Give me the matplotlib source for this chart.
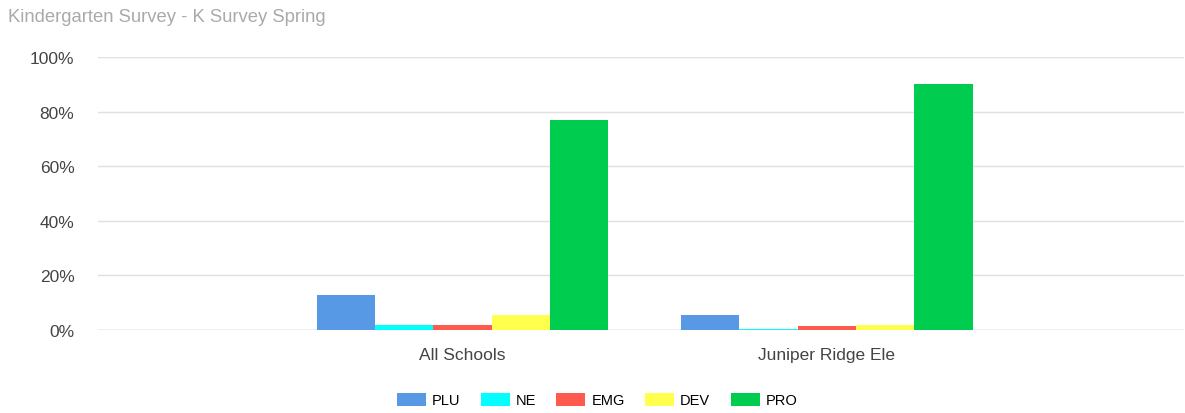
import matplotlib.pyplot as plt
import numpy as np
from matplotlib.ticker import FuncFormatter

plt.rcParams['font.family'] = ['Liberation Sans', 'DejaVu Sans']

schools = ['All Schools', 'Juniper Ridge Ele']
levels = ['PLU', 'NE', 'EMG', 'DEV', 'PRO']
colors = ['#5899e6', '#00ffff', '#ff5a4e', '#ffff4d', '#00cc4f']
plu = [13, 5.5]
ne = [2, 0.5]
emg = [2, 1.5]
dev = [5.5, 2]
pro = [77, 90]
series = [plu, ne, emg, dev, pro]

fig = plt.figure(figsize=(11.85, 4.14), dpi=100)
ax = fig.add_axes([98 / 1185, 1 - 331 / 414, (1184 - 98) / 1185, (331 - 58) / 414])

x = np.arange(len(schools))
w = 0.16
for i, vals in enumerate(series):
    ax.bar(x + (i - 2) * w, vals, width=w, color=colors[i], label=levels[i], zorder=3)

ax.set_ylim(0, 100)
ax.set_xlim(-1.0, 1.98)
ax.set_yticks(range(0, 101, 20))
ax.yaxis.set_major_formatter(FuncFormatter(lambda v, p: '%d%%' % v))
ax.set_xticks(x)
ax.set_xticklabels(schools)
ax.grid(axis='y', color='#e0e0e0', linewidth=1, zorder=0)
ax.axhline(0, color='#cccccc', linewidth=1, zorder=2)
for s in ax.spines.values():
    s.set_visible(False)
ax.tick_params(length=0, labelsize=12.5, colors='#444444')
ax.tick_params(axis='y', pad=17)
ax.tick_params(axis='x', pad=12)

fig.text(8 / 1185, 1 - 18 / 414, 'Kindergarten Survey - K Survey Spring',
         fontsize=13.3, color='#aaaaaa', va='center', ha='left')

fig.legend(loc='center', bbox_to_anchor=(597 / 1185, 1 - 401 / 414), ncol=5,
           frameon=False, fontsize=10.5, handlelength=2.0, handleheight=1.0,
           columnspacing=1.4, handletextpad=0.4)

fig.savefig('out.png', dpi=100)
